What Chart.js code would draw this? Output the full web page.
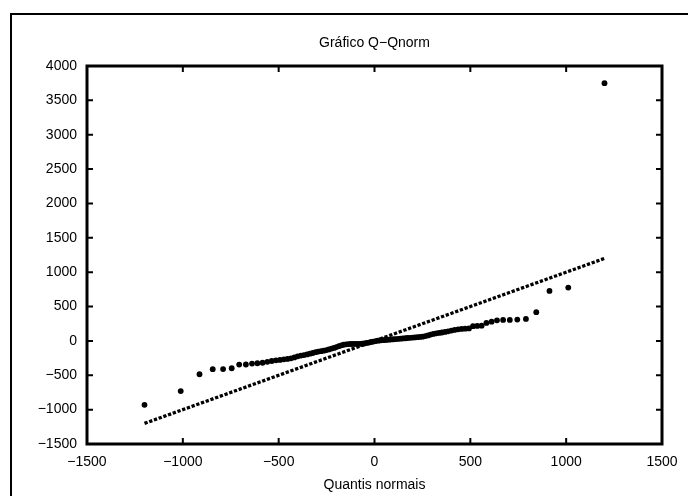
<!DOCTYPE html>
<html>
<head>
<meta charset="utf-8">
<script src="https://cdn.jsdelivr.net/npm/chart.js@4"></script>
<style>
  html, body { margin: 0; padding: 0; background: #fff; }
  #wrap { width: 688px; height: 496px; position: relative; }
</style>
</head>
<body>
<div id="wrap"><canvas id="canvas" width="688" height="496"></canvas></div>
<script>
// quantis normais (eixo x) e valores ordenados da amostra (eixo y)
var quantX = [
  -1200, -1011, -913, -844, -790, -745, -706, -671, -639, -611,
  -584, -559, -536, -514, -493, -473, -454, -436, -418, -401,
  -384, -368, -352, -337, -322, -307, -293, -279, -265, -251,
  -238, -224, -211, -199, -186, -173, -161, -148, -136, -124,
  -112, -100, -88, -76, -64, -53, -41, -29, -18, -6,
  6, 18, 29, 41, 53, 64, 76, 88, 100, 112,
  124, 136, 148, 161, 173, 186, 199, 211, 224, 238,
  251, 265, 279, 293, 307, 322, 337, 352, 368, 384,
  401, 418, 436, 454, 473, 493, 514, 536, 559, 584,
  611, 639, 671, 706, 745, 790, 844, 913, 1011, 1200
];
var amostraY = [
  -930, -730, -485, -412, -410, -398, -345, -343, -330, -325,
  -318, -305, -292, -283, -276, -268, -262, -254, -240, -224,
  -214, -206, -196, -186, -176, -164, -155, -150, -142, -134,
  -124, -112, -102, -90, -76, -64, -56, -50, -46, -45,
  -44, -44, -43, -42, -40, -36, -30, -24, -16, -9,
  -2, 3, 7, 10, 13, 16, 18, 21, 24, 27,
  30, 33, 36, 39, 42, 45, 48, 51, 54, 58,
  62, 70, 80, 92, 102, 110, 116, 122, 130, 140,
  150, 160, 168, 174, 178, 182, 215, 218, 222, 262,
  280, 300, 305, 306, 310, 320, 418, 728, 776, 3750
];
// linha de referencia
var linhaX = [-1200, 1200];
var linhaY = [-1200, 1200];

var xTicks = [-1500, -1000, -500, 0, 500, 1000, 1500];
var yTicks = [-1500, -1000, -500, 0, 500, 1000, 1500, 2000, 2500, 3000, 3500, 4000];

var titulo = 'Gr\u00e1fico Q\u2212Qnorm';

var pontos = quantX.map(function(x, i) { return { x: x, y: amostraY[i] }; });
var linha = linhaX.map(function(x, i) { return { x: x, y: linhaY[i] }; });

var fonte = { family: "'Liberation Sans', Arial, sans-serif", size: 14 };

function menos(v) {
  return String(v).replace('-', '\u2212');
}

// moldura, titulo, borda do grafico e marcas para dentro (estilo gnuplot)
var molduraPlugin = {
  id: 'moldura',
  afterDatasetsDraw: function(chart) {
    var ctx = chart.ctx;
    var a = chart.chartArea;
    var sx = chart.scales.x, sy = chart.scales.y;
    ctx.save();
    ctx.strokeStyle = '#000';
    ctx.lineWidth = 2;
    ctx.beginPath();
    ctx.moveTo(11, 496);
    ctx.lineTo(11, 14);
    ctx.lineTo(688, 14);
    ctx.stroke();

    ctx.fillStyle = '#000';
    ctx.font = '14px ' + fonte.family;
    ctx.textAlign = 'center';
    ctx.textBaseline = 'middle';
    ctx.fillText(titulo, (a.left + a.right) / 2, 43);

    ctx.lineWidth = 2;
    ctx.beginPath();
    xTicks.forEach(function(v) {
      var px = sx.getPixelForValue(v);
      ctx.moveTo(px, a.bottom); ctx.lineTo(px, a.bottom - 6);
      ctx.moveTo(px, a.top); ctx.lineTo(px, a.top + 6);
    });
    yTicks.forEach(function(v) {
      var py = sy.getPixelForValue(v);
      ctx.moveTo(a.left, py); ctx.lineTo(a.left + 6, py);
      ctx.moveTo(a.right, py); ctx.lineTo(a.right - 6, py);
    });
    ctx.stroke();

    ctx.lineWidth = 3;
    ctx.strokeRect(a.left, a.top, a.right - a.left, a.bottom - a.top);
    ctx.restore();
  }
};

var ctxL = document.getElementById('canvas').getContext('2d');
var mychart = new Chart(ctxL, {
  type: 'scatter',
  data: {
    datasets: [{
        label: 'amostra',
        data: pontos,
        backgroundColor: '#000',
        borderColor: '#000',
        pointStyle: 'circle',
        pointRadius: 2.9,
        borderWidth: 0,
        order: 1
      },
      {
        label: 'linha',
        type: 'line',
        data: linha,
        borderColor: '#000',
        borderWidth: 3.3,
        borderDash: [3.3, 1.7],
        borderCapStyle: 'butt',
        pointRadius: 0,
        fill: false,
        order: 2
      }
    ]
  },
  options: {
    responsive: false,
    animation: false,
    layout: { padding: { top: 66, right: 26, bottom: 0, left: 0 } },
    plugins: {
      legend: { display: false },
      tooltip: { enabled: false },
      title: { display: false }
    },
    scales: {
      x: {
        type: 'linear',
        min: -1500,
        max: 1500,
        afterFit: function(scale) { scale.height = 52; },
        afterBuildTicks: function(scale) {
          scale.ticks = xTicks.map(function(v) { return { value: v }; });
        },
        grid: { display: false, drawTicks: false },
        border: { display: false },
        ticks: {
          color: '#000',
          font: fonte,
          padding: 10,
          maxRotation: 0,
          autoSkip: false,
          callback: function(v) { return menos(v); }
        },
        title: {
          display: true,
          text: 'Quantis normais',
          color: '#000',
          font: fonte,
          padding: { top: 4, bottom: 2 }
        }
      },
      y: {
        type: 'linear',
        min: -1500,
        max: 4000,
        afterFit: function(scale) { scale.width = 87; },
        afterBuildTicks: function(scale) {
          scale.ticks = yTicks.map(function(v) { return { value: v }; });
        },
        grid: { display: false, drawTicks: false },
        border: { display: false },
        ticks: {
          color: '#000',
          font: fonte,
          padding: 10,
          autoSkip: false,
          callback: function(v) { return menos(v); }
        }
      }
    }
  },
  plugins: [molduraPlugin]
});
</script>
</body>
</html>
